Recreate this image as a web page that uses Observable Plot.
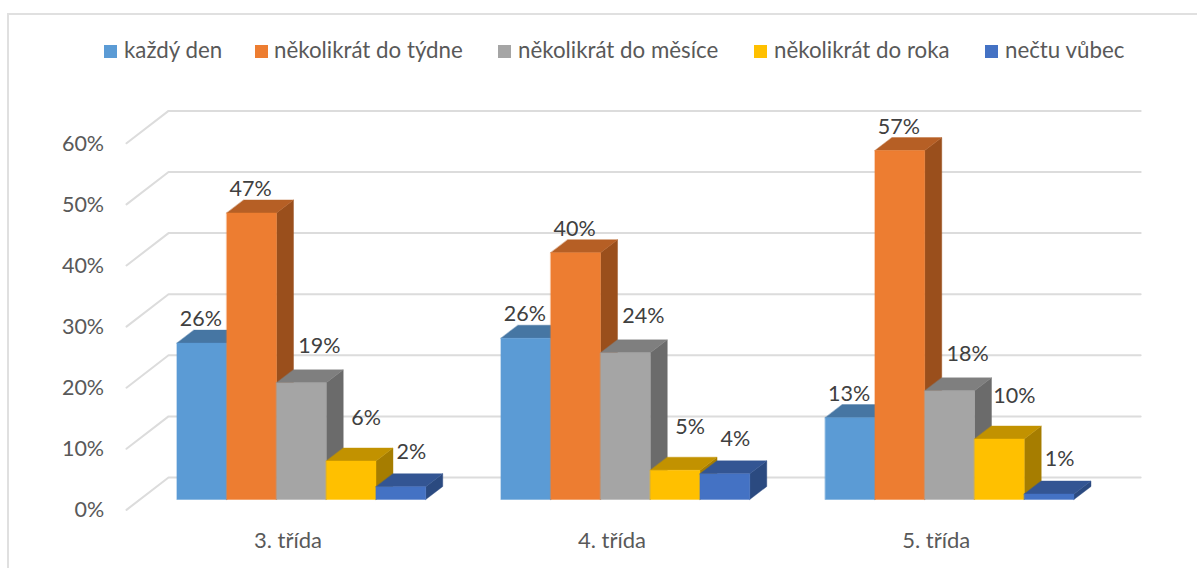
<!DOCTYPE html>
<html><head><meta charset="utf-8">
<style>
html,body{margin:0;padding:0;background:#fff;overflow:hidden}
body{width:1197px;height:568px;position:relative;font-family:Lato,sans-serif}
#frame{position:absolute;left:7px;top:13px;width:1200px;height:600px;border:2px solid #e0e0e0;box-sizing:border-box}
#legend{position:relative;height:80px;width:1197px}
.it{position:absolute;top:36px;font-size:22.3px;color:#595959;white-space:nowrap;line-height:28px}
.sw{position:absolute;top:45px;width:13px;height:13px}
#chart{position:relative}
</style></head><body>
<div id="frame"></div>
<div id="legend"></div>
<div id="chart"></div>
<script src="https://cdn.jsdelivr.net/npm/d3@7"></script>
<script src="https://cdn.jsdelivr.net/npm/@observablehq/plot@0.6"></script>
<script>
const grades = ["3. třída","4. třída","5. třída"];
const series = ["každý den","několikrát do týdne","několikrát do měsíce","několikrát do roka","nečtu vůbec"];
const values3 = [25.6,46.9,19.1,6.3,2.1];
const values4 = [26.4,40.4,24.0,4.8,4.2];
const values5 = [13.4,57.1,17.8,9.9,0.9];
const yTicks = [0,10,20,30,40,50,60];
const frontColors = ["#5B9BD5","#ED7D31","#A5A5A5","#FFC000","#4472C4"];
const topColors = ["#4676A3","#B65F25","#7F7F7F","#C29200","#335593"];
const sideColors = ["#3F6C95","#9A4F1C","#6B6B6B","#A67D00","#2B4A80"];
const legendX = [[104,124],[255,274],[498,518],[754,774],[985,1005]];

// depth and layout in data units: x is in bar widths, y in percent
const groupStart = [0,6.513,13.03];
const depthX = 0.342, depthY = 2.13;
const wallFrontX = -1.025, wallBackX = -0.18, wallEndX = 19.36;
const wallFrontY = -1.62, wallBackY = 3.68;
const labelDx = [-0.03,-0.03,0.35,0.29,0.2];
const labelDy = [4.0,4.0,6.1,7.1,5.8];
const gradeLabelShift = [-0.28,-0.28,-0.28];
const gradeLabelY = -6.7;

const allValues = [values3,values4,values5];
const quads = [];
let id = 0;
function quad(xa1,ya1,xa2,ya2,xb1,yb1,xb2,yb2,fill){
  id++;
  quads.push({z:id,x1:xa1,y1:ya1,x2:xa2,y2:ya2,fill});
  quads.push({z:id,x1:xb1,y1:yb1,x2:xb2,y2:yb2,fill});
}
const labels = [];
allValues.forEach((vals,g)=>{
  vals.forEach((v,s)=>{
    const l = groupStart[g]+s, r = l+1;
    quad(r,0,r,v, r+depthX,depthY,r+depthX,v+depthY, sideColors[s]);
    quad(l,v,l+depthX,v+depthY, r,v,r+depthX,v+depthY, topColors[s]);
    quad(l,0,l,v, r,0,r,v, frontColors[s]);
    labels.push({x:l+0.5+labelDx[s],y:v+labelDy[s],t:Math.round(v)+"%"});
  });
});
const grid = yTicks.flatMap(t=>[
  {z:t,x:wallFrontX,y:t+wallFrontY},
  {z:t,x:wallBackX,y:t+wallBackY},
  {z:t,x:wallEndX,y:t+wallBackY}
]);
const legendEl = document.getElementById("legend");
series.forEach((s,i)=>{
  const sw=document.createElement("div");sw.className="sw";sw.style.left=legendX[i][0]+"px";sw.style.background=frontColors[i];legendEl.appendChild(sw);
  const t=document.createElement("div");t.className="it";t.style.left=legendX[i][1]+"px";t.textContent=s;legendEl.appendChild(t);
});
const plot = Plot.plot({
  width:1197,height:488,
  margin:0,
  x:{domain:[0,18],range:[177,1072.5],axis:null},
  y:{domain:[0,60],range:[419.5,52.9],axis:null},
  color:{type:"identity"},
  style:{fontFamily:"Lato, sans-serif",background:"transparent",overflow:"visible"},
  marks:[
    Plot.line(grid,{x:"x",y:"y",z:"z",stroke:"#dcdcdc",strokeWidth:2}),
    Plot.area(quads,{x1:"x1",y1:"y1",x2:"x2",y2:"y2",z:"z",fill:"fill",stroke:"fill",strokeWidth:0.4}),
    Plot.text(labels,{x:"x",y:"y",text:"t",fill:"#404040",fontSize:21.5}),
    Plot.text(yTicks,{x:wallFrontX-0.45,y:d=>d+wallFrontY-0.1,text:d=>d+"%",textAnchor:"end",fill:"#595959",fontSize:21.5}),
    Plot.text(grades,{x:(d,i)=>groupStart[i]+2.5+gradeLabelShift[i],y:gradeLabelY,text:d=>d,fill:"#595959",fontSize:22})
  ]
});
document.getElementById("chart").appendChild(plot);
</script>
</body></html>
